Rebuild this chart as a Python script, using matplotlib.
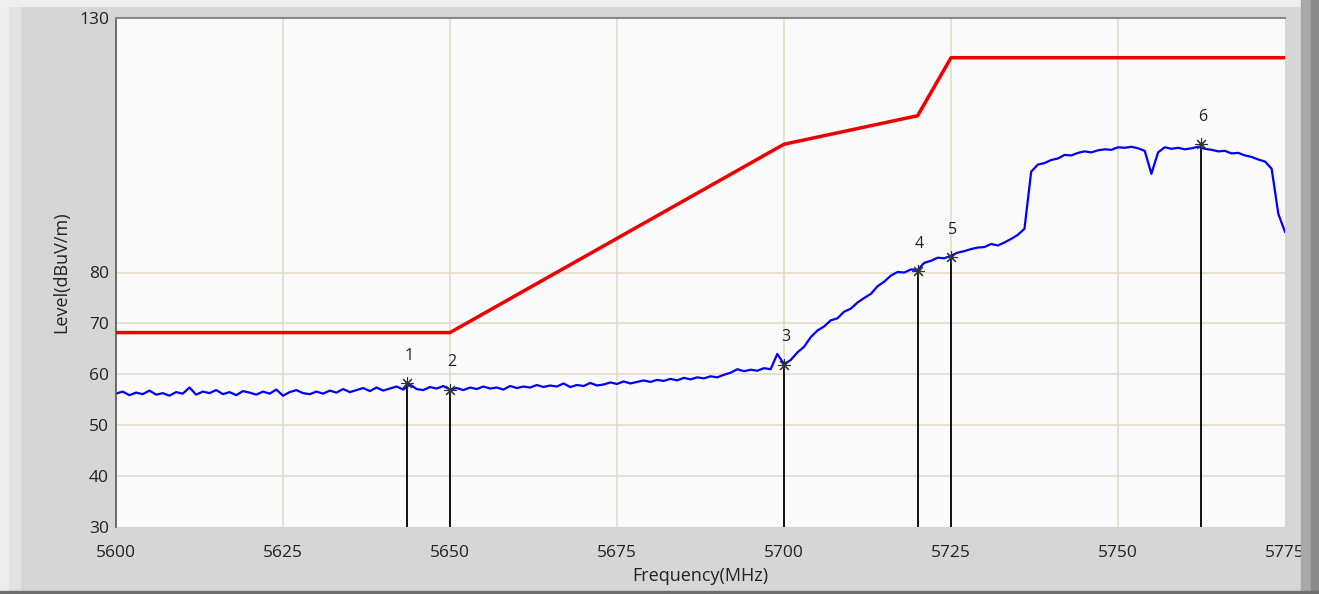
import numpy as np
import matplotlib
matplotlib.use("Agg")
import matplotlib.pyplot as plt
from matplotlib.patches import Rectangle

# spectrum trace, 1 MHz steps from 5600 to 5775 MHz (dBuV/m)
freq = np.arange(5600, 5776, 1)
level = [
    56.2, 56.6, 55.9, 56.4, 56.1, 56.8, 56.0, 56.3, 55.8, 56.5,
    56.2, 57.4, 56.0, 56.6, 56.3, 56.9, 56.1, 56.5, 55.9, 56.7,
    56.4, 56.0, 56.6, 56.2, 57.0, 55.8, 56.5, 56.9, 56.3, 56.1,
    56.6, 56.2, 56.8, 56.4, 57.1, 56.5, 56.9, 57.3, 56.7, 57.4,
    56.8, 57.2, 57.6, 57.0, 58.0, 57.1, 56.9, 57.5, 57.2, 57.7,
    57.0, 57.3, 56.9, 57.4, 57.1, 57.6, 57.2, 57.4, 57.0, 57.7,
    57.3, 57.6, 57.4, 57.9, 57.5, 57.8, 57.6, 58.2, 57.5, 57.9,
    57.7, 58.3, 57.8, 58.0, 58.4, 58.1, 58.6, 58.2, 58.5, 58.8,
    58.5, 58.9, 58.7, 59.1, 58.8, 59.3, 59.0, 59.4, 59.2, 59.6,
    59.4, 59.9, 60.3, 61.0, 60.6, 60.9, 60.7, 61.2, 61.0, 64.0,
    62.0, 62.8, 64.3, 65.4, 67.3, 68.6, 69.4, 70.6, 71.0, 72.3,
    72.9, 74.1, 75.0, 75.8, 77.3, 78.2, 79.4, 80.1, 80.0, 80.6,
    80.5, 81.9, 82.3, 82.9, 82.8, 83.3, 83.9, 84.2, 84.6, 84.9,
    85.0, 85.6, 85.3, 85.9, 86.6, 87.4, 88.6, 99.8, 101.2, 101.5,
    102.1, 102.4, 103.1, 103.0, 103.5, 103.8, 103.6, 104.0, 104.2, 104.1,
    104.6, 104.5, 104.7, 104.4, 103.9, 99.4, 103.6, 104.6, 104.3, 104.5,
    104.2, 104.4, 104.7, 104.3, 104.1, 103.8, 103.9, 103.4, 103.5, 103.0,
    102.7, 102.2, 101.8, 100.4, 91.5, 88.0,
]

# limit line
limit_freq = [5600, 5650, 5700, 5720, 5725, 5775]
limit_level = [68.2, 68.2, 105.2, 110.8, 122.2, 122.2]

# markers
marker_id = ["1", "2", "3", "4", "5", "6"]
marker_freq = [5643.6, 5650.0, 5700.0, 5720.0, 5725.0, 5762.4]
marker_level = [58.3, 57.0, 61.9, 80.3, 83.0, 105.2]

xticks = [5600, 5625, 5650, 5675, 5700, 5725, 5750, 5775]
yticks = [30, 40, 50, 60, 70, 80, 130]

plt.rcParams['font.family'] = ['Open Sans', 'DejaVu Sans']

fig = plt.figure(figsize=(13.19, 5.94), dpi=100, facecolor='#d6d6d6')
W, H = 1319, 594
# window frame bits
fig.patches.append(Rectangle((0, 0), 20 / W, 1, transform=fig.transFigure, color='#e2e2e2', zorder=0))
fig.patches.append(Rectangle((0, 0), 8 / W, 1, transform=fig.transFigure, color='#ececec', zorder=0))
fig.patches.append(Rectangle((0, 1 - 6 / H), 1, 6 / H, transform=fig.transFigure, color='#efefef', zorder=0))
fig.patches.append(Rectangle((1 - 18 / W, 0), 18 / W, 1, transform=fig.transFigure, color='#a8a8a8', zorder=0))
fig.patches.append(Rectangle((1 - 8 / W, 0), 8 / W, 1, transform=fig.transFigure, color='#8a8a8a', zorder=0))
fig.patches.append(Rectangle((0, 0), 1, 3 / H, transform=fig.transFigure, color='#707070', zorder=0))

ax = fig.add_axes([116 / W, 1 - 527 / H, (1285 - 116) / W, (527 - 18) / H])
ax.set_facecolor('#fafafa')

grid_c = '#e2dcc8'
for x in xticks[1:-1]:
    ax.axvline(x, color=grid_c, lw=1.2, zorder=0)
for y in [40, 50, 60, 70, 80]:
    ax.axhline(y, color=grid_c, lw=1.2, zorder=0)

ax.plot(limit_freq, limit_level, color='#ee0000', lw=2.5, zorder=3)
ax.plot(freq, level, color='#0000ff', lw=1.6, zorder=2)

for mid, mf, ml in zip(marker_id, marker_freq, marker_level):
    ax.plot([mf, mf], [30, ml], color='black', lw=1.3, zorder=4)
    ax.plot(mf, ml, marker=(8, 2, 0), ms=9, color='#333333', mew=0.8, zorder=5)
    ax.annotate(mid, (mf, ml), xytext=(1, 14), textcoords='offset points',
                ha='center', va='bottom', fontsize=11.5, color='#222222')

ax.set_xlim(5600, 5775)
ax.set_ylim(30, 130)
ax.set_xticks(xticks)
ax.set_yticks(yticks)
ax.tick_params(length=0, labelsize=12.5, colors='#222222')
ax.tick_params(axis='x', pad=13)
ax.tick_params(axis='y', pad=5)
ax.set_xlabel('Frequency(MHz)', fontsize=13, color='#222222', labelpad=4)
ax.set_ylabel('Level(dBuV/m)', fontsize=13, color='#222222', labelpad=6)

for s in ['right', 'bottom']:
    ax.spines[s].set_visible(False)
ax.spines['left'].set_color('#555555')
ax.spines['top'].set_color('#888888')
ax.spines['left'].set_linewidth(1.2)
ax.spines['top'].set_linewidth(1.5)

fig.savefig('out.png', dpi=100, facecolor=fig.get_facecolor())
